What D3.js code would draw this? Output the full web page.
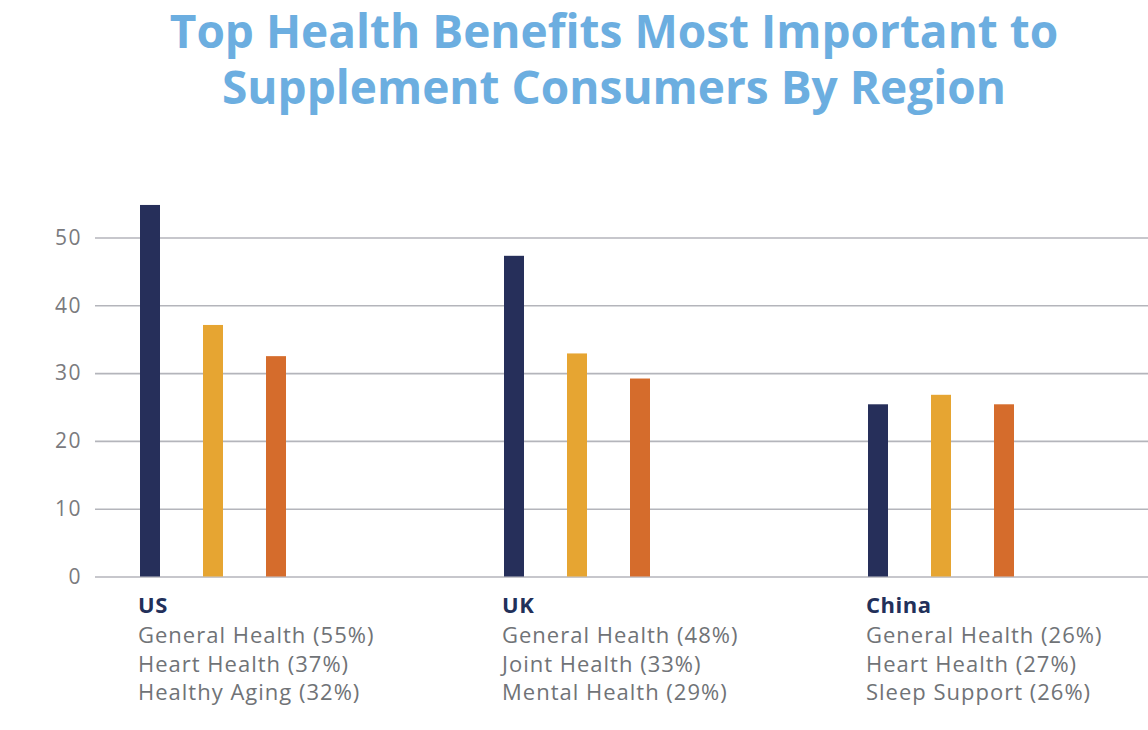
<!DOCTYPE html>
<html><head><meta charset="utf-8">
<script src="https://cdn.jsdelivr.net/npm/d3@7"></script>
<style>body{margin:0;background:#fff;} svg{display:block;}</style>
</head><body>
<svg id="c" width="1148" height="730"></svg>
<script>
const regions = ["US", "UK", "China"];
const series = ["first", "second", "third"];
const values = {
  US: [54.8, 37.1, 32.5],
  UK: [47.3, 32.9, 29.2],
  China: [25.4, 26.8, 25.4]
};
const labels = {
  US: ["General Health (55%)", "Heart Health (37%)", "Healthy Aging (32%)"],
  UK: ["General Health (48%)", "Joint Health (33%)", "Mental Health (29%)"],
  China: ["General Health (26%)", "Heart Health (27%)", "Sleep Support (26%)"]
};
const yTicks = [0, 10, 20, 30, 40, 50];
const titleLines = ["Top Health Benefits Most Important to", "Supplement Consumers By Region"];
const colors = ["#262f5a", "#e6a532", "#d56c2c"];

const svg = d3.select("#c");
const font = "'Open Sans', sans-serif";

const y = d3.scaleLinear().domain([0, 50]).range([576.5, 237.5]);
const x0 = d3.scaleBand().domain(regions).range([140, 140 + 3 * 364]);
const x1 = d3.scaleBand().domain(series).range([0, 146]).paddingInner(43 / 63);

// title
svg.append("g").selectAll("text").data(titleLines).join("text")
  .attr("x", 614).attr("y", (d, i) => 48 + i * 56)
  .attr("text-anchor", "middle")
  .style("font-family", font).style("font-weight", 700).style("font-size", "46px")
  .style("fill", "#6caee0").text(d => d);

// y axis grid
const axis = d3.axisLeft(y).tickValues(yTicks).tickSize(-(1148 - 95)).tickPadding(13);
const ag = svg.append("g").attr("transform", "translate(95,0)").call(axis);
ag.select(".domain").remove();
ag.selectAll(".tick line").attr("stroke", "#b4b5bb").attr("stroke-width", 1.6);
ag.selectAll(".tick text").style("font-family", font).style("font-size", "21px")
  .style("letter-spacing", "1.5px").style("fill", "#7a7a7e");

// bars
const groups = svg.append("g").selectAll("g").data(regions).join("g")
  .attr("transform", d => `translate(${x0(d)},0)`);
groups.selectAll("rect").data(d => values[d].map((v, i) => ({ s: series[i], v, i })))
  .join("rect")
  .attr("x", d => x1(d.s)).attr("width", x1.bandwidth())
  .attr("y", d => y(d.v)).attr("height", d => y(0) - y(d.v))
  .attr("fill", d => colors[d.i]);

// category labels
groups.append("text").attr("x", -2).attr("y", 613)
  .style("font-family", font).style("font-weight", 700).style("font-size", "22px")
  .style("letter-spacing", "0.5px")
  .style("fill", "#22305a").text(d => d);
groups.selectAll("text.l").data(d => labels[d]).join("text").attr("class", "l")
  .attr("x", -2).attr("y", (d, i) => 643 + i * 28.5)
  .style("font-family", font).style("font-size", "22px").style("letter-spacing", "1px")
  .style("fill", "#707377").text(d => d);
</script>
</body></html>
